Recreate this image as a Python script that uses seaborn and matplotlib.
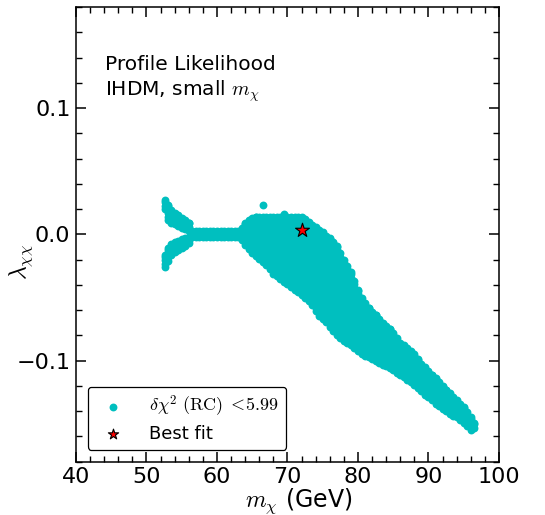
import numpy as np
import pandas as pd
import matplotlib
matplotlib.use("Agg")
import matplotlib.pyplot as plt
from matplotlib.ticker import MultipleLocator
import seaborn as sns

# ---- data -----------------------------------------------------------------
# main allowed region: columns in m_chi with lower / upper lambda bounds
body_m = [63.5, 64.0, 64.5, 65.0, 65.5, 66.0, 66.5, 67.0, 67.5, 68.0, 68.5, 69.0,
          69.5, 70.0, 70.5, 71.0, 71.5, 72.0, 72.5, 73.0, 73.5, 74.0, 74.5, 75.0,
          75.5, 76.0, 76.5, 77.0, 77.5, 78.0, 78.5, 79.0, 79.5, 80.0, 80.5, 81.0,
          81.5, 82.0, 82.5, 83.0, 83.5, 84.0, 84.5, 85.0, 85.5, 86.0, 86.5, 87.0,
          87.5, 88.0, 88.5, 89.0, 89.5, 90.0, 90.5, 91.0, 91.5, 92.0, 92.5, 93.0,
          93.5, 94.0, 94.5, 95.0, 95.5, 96.0, 96.5]
body_hi = [0.005, 0.009, 0.011, 0.013, 0.0135, 0.0135, 0.0135, 0.0135, 0.0135, 0.0135,
           0.0135, 0.0135, 0.0135, 0.0135, 0.0135, 0.0135, 0.0135, 0.0135, 0.012, 0.0095,
           0.0075, 0.0055, 0.0035, 0.0015, -0.001, -0.003, -0.006, -0.0095, -0.015, -0.0205,
           -0.025, -0.030, -0.037, -0.044, -0.050, -0.0545, -0.058, -0.0615, -0.064, -0.067,
           -0.070, -0.0725, -0.075, -0.078, -0.082, -0.086, -0.088, -0.090, -0.092, -0.095,
           -0.099, -0.1025, -0.105, -0.108, -0.111, -0.114, -0.117, -0.120, -0.123, -0.126,
           -0.1285, -0.131, -0.134, -0.137, -0.141, -0.145, -0.149]
body_lo = [-0.0047, -0.0087, -0.0118, -0.015, -0.0174, -0.0197, -0.0217, -0.0245, -0.0276,
           -0.031, -0.033, -0.0355, -0.038, -0.0395, -0.042, -0.044, -0.046, -0.048,
           -0.0505, -0.053, -0.056, -0.061, -0.065, -0.067, -0.069, -0.0734, -0.0766,
           -0.0797, -0.082, -0.0845, -0.086, -0.0876, -0.090, -0.0923, -0.0947, -0.0963,
           -0.0975, -0.099, -0.1006, -0.1018, -0.1034, -0.1046, -0.106, -0.1077, -0.1097,
           -0.111, -0.113, -0.115, -0.117, -0.119, -0.1215, -0.124, -0.127, -0.1287,
           -0.131, -0.134, -0.136, -0.138, -0.140, -0.142, -0.1436, -0.145, -0.147,
           -0.149, -0.152, -0.1547, -0.153]

# thin horizontal strip
strip_m = [56.5, 57.0, 57.5, 58.0, 58.5, 59.0, 59.5, 60.0, 60.5, 61.0, 61.5, 62.0, 62.5, 63.0]
strip_lo = [-0.002] * 14
strip_hi = [0.0025] * 14

# forked left end (upper and lower arms)
fork_m = [52.6, 53.0, 53.5, 54.0, 54.5, 55.0, 55.5, 56.0]
fork_up_lo = [0.020, 0.011, 0.009, 0.008, 0.007, 0.005, 0.004, 0.003]
fork_up_hi = [0.027, 0.023, 0.019, 0.017, 0.015, 0.013, 0.011, 0.009]
fork_dn_lo = [-0.026, -0.021, -0.016, -0.014, -0.012, -0.011, -0.009, -0.007]
fork_dn_hi = [-0.016, -0.011, -0.008, -0.006, -0.005, -0.004, -0.003, -0.002]

# isolated points
extra_m = [66.5, 69.5]
extra_l = [0.0229, 0.0165]

# best-fit point
best_m = [72.1]
best_l = [0.0034]

# ---- build scatter table ---------------------------------------------------
STEP = 0.0028
xs, ys = [], []


def add_cols(ms, los, his):
    for m, lo, hi in zip(ms, los, his):
        vals = list(np.arange(lo, hi, STEP)) + [hi]
        xs.extend([m] * len(vals))
        ys.extend(vals)


add_cols(body_m, body_lo, body_hi)
add_cols(strip_m, strip_lo, strip_hi)
add_cols(fork_m, fork_up_lo, fork_up_hi)
add_cols(fork_m, fork_dn_lo, fork_dn_hi)
xs.extend(extra_m)
ys.extend(extra_l)

df = pd.DataFrame({"m": xs, "lam": ys})
best = pd.DataFrame({"m": best_m, "lam": best_l})

# ---- plot --------------------------------------------------------------------
sns.set_style("ticks")
plt.rcParams["font.family"] = ["DejaVu Sans"]
plt.rcParams["mathtext.fontset"] = "cm"
for k in ["text.color", "axes.labelcolor", "xtick.color", "ytick.color", "axes.edgecolor"]:
    plt.rcParams[k] = "black"

fig = plt.figure(figsize=(5.45, 5.15), dpi=100)
ax = fig.add_axes([0.1394, 0.1035, 0.7762, 0.8829])

sns.scatterplot(data=df, x="m", y="lam", ax=ax, color="c", s=32, linewidth=0,
                label=r"$\delta\chi^2\ \mathrm{(RC)}\ {<}\!5.99$", zorder=2)
sns.scatterplot(data=best, x="m", y="lam", ax=ax, color="red", marker="*", s=110,
                edgecolor="black", linewidth=0.8, label="Best fit", zorder=3)

ax.set_xlim(40, 100)
ax.set_ylim(-0.18, 0.18)
ax.xaxis.set_major_locator(MultipleLocator(10))
ax.xaxis.set_minor_locator(MultipleLocator(2))
ax.yaxis.set_major_locator(MultipleLocator(0.1))
ax.yaxis.set_minor_locator(MultipleLocator(0.02))
ax.tick_params(which="both", direction="in", top=True, right=True, colors="black")
ax.tick_params(which="major", length=7, width=1.1, labelsize=16, pad=4)
ax.tick_params(which="minor", length=4, width=1.0)
for sp in ax.spines.values():
    sp.set_color("black")
    sp.set_linewidth(1.1)

ax.set_xlabel(r"$m_\chi$ (GeV)", fontsize=17)
ax.xaxis.set_label_coords(0.527, -0.054)
ax.set_ylabel(r"$\lambda_{\chi\chi}$", fontsize=17)
ax.yaxis.set_label_coords(-0.097, 0.44)

ax.text(0.068, 0.895, "Profile Likelihood\nIHDM, small $m_\\chi$", transform=ax.transAxes,
        fontsize=14.5, va="top", ha="left", linespacing=1.25)

leg = ax.legend(loc="lower left", fontsize=13, frameon=True, fancybox=True,
                edgecolor="black", framealpha=1, borderaxespad=0.65, handletextpad=1.0,
                handlelength=2.0, borderpad=0.4, labelspacing=0.3)
leg.get_frame().set_linewidth(0.9)
leg.legend_handles[1].set_sizes([60])

fig.savefig("out.png", dpi=100)
